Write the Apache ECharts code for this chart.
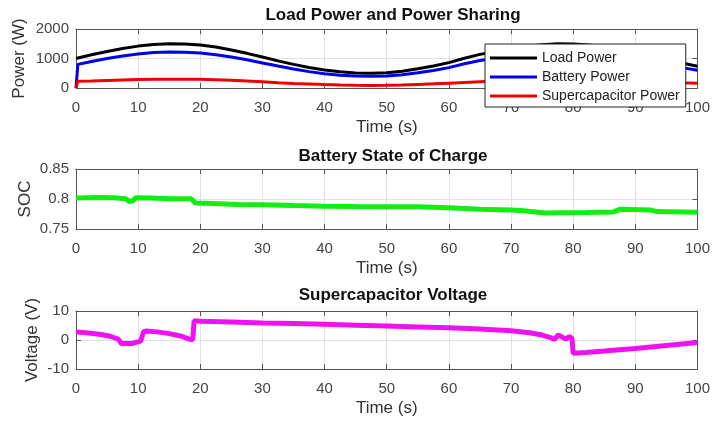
<!DOCTYPE html>
<html>
<head>
<meta charset="utf-8">
<script src="https://cdn.jsdelivr.net/npm/echarts@6/dist/echarts.min.js"></script>
<style>
  html, body { margin: 0; padding: 0; background: #fff; }
  #chart { width: 713px; height: 425px; }
</style>
</head>
<body>
<div id="chart"></div>
<script>
// time axis ticks (shared by all three panels)
var timeTicks = [0, 10, 20, 30, 40, 50, 60, 70, 80, 90, 100];

// panel 1: load power and power sharing (W)
var powerTime = [0, 0.3, 2.5, 5, 7.5, 10, 12.5, 15, 17.5, 20, 22.5, 25, 27.5, 30, 32.5, 35, 37.5, 40, 42.5, 45, 47.5,
    50, 52.5, 55, 57.5, 60, 62.5, 65, 67.5, 70, 72.5, 75, 77.5, 80, 82.5, 85, 87.5, 90, 92.5, 95, 97.5, 100];
var loadPower = [1000, 1005, 1125, 1240, 1340, 1420, 1475, 1500, 1495, 1460, 1390, 1290, 1175, 1050, 920, 800, 695, 610, 550, 510, 500,
    520, 570, 650, 745, 860, 1010, 1140, 1240, 1330, 1410, 1470, 1500, 1495, 1460, 1390, 1300, 1190, 1070, 960, 850, 740];
var batteryPower = [0, 800, 900, 1000, 1085, 1150, 1200, 1220, 1215, 1185, 1130, 1050, 955, 850, 745, 645, 555, 485, 435, 405, 395,
    410, 450, 515, 595, 690, 820, 930, 1010, 1075, 1135, 1175, 1200, 1200, 1175, 1125, 1055, 970, 875, 780, 690, 600];
var supercapPower = [0, 230, 240, 255, 270, 285, 295, 300, 300, 295, 280, 260, 235, 210, 180, 155, 135, 115, 100, 90, 85,
    90, 100, 120, 140, 165, 190, 215, 240, 260, 280, 290, 300, 300, 290, 275, 255, 235, 215, 200, 180, 165];
var powerTicks = [0, 1000, 2000];

// panel 2: battery state of charge
var socTime = [0, 2, 4, 6, 8, 8.6, 9.2, 9.6, 12, 15, 18.5, 19.2, 22, 26, 30, 35, 40, 45, 50, 55, 60, 65, 70, 72,
    75.5, 78, 82, 86.5, 87.5, 92.5, 93.5, 100];
var socValue = [0.8015, 0.802, 0.8025, 0.802, 0.8005, 0.7955, 0.7975, 0.802, 0.8015, 0.8005, 0.8005, 0.7935, 0.7925, 0.791, 0.7905,
    0.789, 0.788, 0.7875, 0.7872, 0.787, 0.7855, 0.783, 0.7815, 0.7805, 0.7765, 0.777, 0.7775, 0.7785, 0.7828, 0.7815, 0.779, 0.778];
var socTicks = [0.75, 0.8, 0.85];

// panel 3: supercapacitor voltage (V)
var voltTime = [0, 2, 4, 5.5, 6.8, 7.3, 7.6, 9, 10.4, 10.7, 10.9, 11.3, 13, 15, 17, 18.2, 18.8, 19, 20, 25, 30, 35, 40, 45,
    50, 55, 60, 65, 70, 73, 75, 76.5, 77, 77.6, 78.3, 78.8, 79.4, 79.8, 80, 82, 85, 90, 95, 100];
var voltValue = [2.8, 2.4, 1.9, 1.3, 0.3, -1.2, -1.8, -1.2, -0.4, -0.3, 2.9, 3.1, 2.8, 2.2, 1.3, 0.3, 0.1, 6.6, 6.5, 6.2, 5.9, 5.7, 5.4, 5.1,
    4.8, 4.5, 4.2, 3.8, 3.2, 2.5, 1.7, 0.7, 0.2, 1.8, 0.9, 0.3, 1.2, 0.6, -4.6, -4.3, -3.8, -2.9, -1.9, -0.9];
var voltTicks = [-10, 0, 10];

var FONT = '"Liberation Sans", Arial, Helvetica, sans-serif';
var BOX = '#555555';
var GRIDLINE = '#e2e2e2';

function pairs(xs, ys) {
    return xs.map(function (x, i) { return [x, ys[i]]; });
}

var panels = [
    {title: 'Load Power and Power Sharing', titleTop: 2, top: 29, height: 59, ticks: powerTicks, yName: 'Power (W)', yGap: 48},
    {title: 'Battery State of Charge', titleTop: 143, top: 169, height: 60, ticks: socTicks, yName: 'SOC', yGap: 42},
    {title: 'Supercapacitor Voltage', titleTop: 282, top: 311, height: 58, ticks: voltTicks, yName: 'Voltage (V)', yGap: 35}
];

var grids = [], xAxes = [], yAxes = [], titles = [];
panels.forEach(function (p, i) {
    grids.push({left: 76, top: p.top, width: 625, height: p.height, containLabel: false});
    titles.push({
        text: p.title, left: 388, top: p.titleTop, textAlign: 'center',
        textStyle: {fontFamily: FONT, fontSize: 17, fontWeight: 'bold', color: '#111'}
    });
    var lo = p.ticks[0], hi = p.ticks[p.ticks.length - 1], step = p.ticks[1] - p.ticks[0];
    // bottom axis with labels
    xAxes.push({
        type: 'value', gridIndex: i, min: timeTicks[0], max: timeTicks[timeTicks.length - 1], interval: 10,
        name: 'Time (s)', nameLocation: 'middle', nameGap: 31, nameMoveOverlap: false,
        nameTextStyle: {fontFamily: FONT, fontSize: 17, color: '#333'},
        axisLine: {show: true, onZero: false, lineStyle: {color: BOX, width: 1}},
        axisTick: {show: true, inside: true, length: 5, lineStyle: {color: BOX}},
        axisLabel: {fontFamily: FONT, fontSize: 15, color: '#444', margin: 12},
        splitLine: {show: true, lineStyle: {color: GRIDLINE, width: 1}}
    });
    // top edge of the box
    xAxes.push({
        type: 'value', gridIndex: i, position: 'top', min: 0, max: 100, interval: 10,
        axisLine: {show: true, onZero: false, lineStyle: {color: BOX, width: 1}},
        axisTick: {show: true, inside: true, length: 5, lineStyle: {color: BOX}},
        axisLabel: {show: false}, splitLine: {show: false}
    });
    yAxes.push({
        type: 'value', gridIndex: i, min: lo, max: hi, interval: step,
        name: p.yName, nameLocation: 'middle', nameGap: p.yGap, nameRotate: 90, nameMoveOverlap: false,
        nameTextStyle: {fontFamily: FONT, fontSize: 17, color: '#333'},
        axisLine: {show: true, onZero: false, lineStyle: {color: BOX, width: 1}},
        axisTick: {show: true, inside: true, length: 5, lineStyle: {color: BOX}},
        axisLabel: {
            fontFamily: FONT, fontSize: 15, color: '#444', margin: 7,
            formatter: function (v) { return String(+v.toFixed(2)); }
        },
        splitLine: {show: true, lineStyle: {color: GRIDLINE, width: 1}}
    });
    yAxes.push({
        type: 'value', gridIndex: i, position: 'right', min: lo, max: hi, interval: step,
        axisLine: {show: true, onZero: false, lineStyle: {color: BOX, width: 1}},
        axisTick: {show: true, inside: true, length: 5, lineStyle: {color: BOX}},
        axisLabel: {show: false}, splitLine: {show: false}
    });
});

function lineSeries(name, panel, data, color, width) {
    return {
        name: name, type: 'line', xAxisIndex: panel * 2, yAxisIndex: panel * 2,
        data: data, showSymbol: false, symbol: 'none', smooth: false, animation: false,
        lineStyle: {color: color, width: width}, itemStyle: {color: color}
    };
}

var chart = echarts.init(document.getElementById('chart'), null, {renderer: 'canvas'});
chart.setOption({
    backgroundColor: '#ffffff',
    animation: false,
    title: titles,
    grid: grids,
    xAxis: xAxes,
    yAxis: yAxes,
    legend: {
        data: ['Load Power', 'Battery Power', 'Supercapacitor Power'],
        orient: 'vertical', left: 485, top: 44,
        padding: [7, 6, 4, 5], itemGap: 5, itemWidth: 47, itemHeight: 3, icon: 'rect',
        backgroundColor: '#ffffff', borderColor: '#222', borderWidth: 1, borderRadius: 0,
        textStyle: {fontFamily: FONT, fontSize: 14, color: '#222'},
        z: 10
    },
    series: [
        lineSeries('Load Power', 0, pairs(powerTime, loadPower), '#000000', 3),
        lineSeries('Battery Power', 0, pairs(powerTime, batteryPower), '#0000ee', 3),
        lineSeries('Supercapacitor Power', 0, pairs(powerTime, supercapPower), '#ee0000', 3),
        lineSeries('SOC', 1, pairs(socTime, socValue), '#11ee11', 5),
        lineSeries('Voltage', 2, pairs(voltTime, voltValue), '#f011f0', 5)
    ]
});
</script>
</body>
</html>
